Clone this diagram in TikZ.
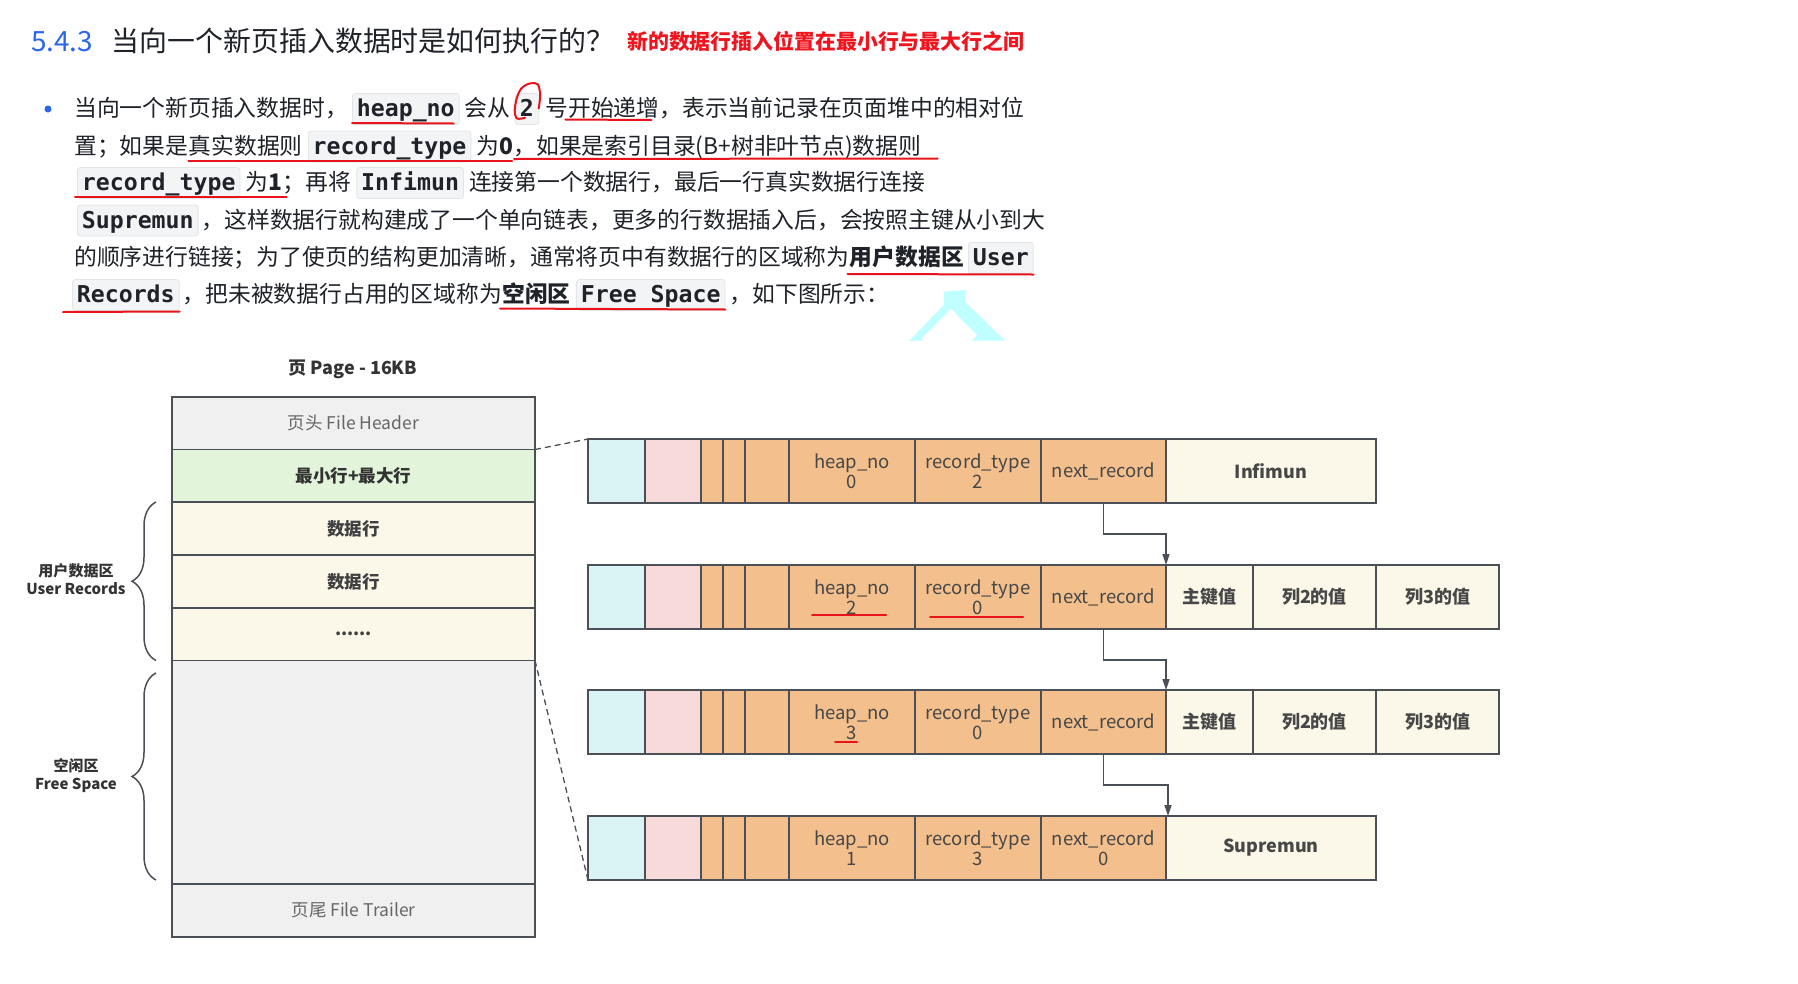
\documentclass[tikz,border=0pt]{standalone}
\usepackage{fontspec}
\setmainfont{Noto Sans CJK SC}
\setmonofont{DejaVu Sans Mono}
\usetikzlibrary{arrows.meta,positioning,decorations.pathreplacing}

\definecolor{ink}{HTML}{1F2329}
\definecolor{secblue}{HTML}{2B66EA}
\definecolor{markred}{HTML}{E8131B}
\definecolor{subred}{HTML}{F0141E}
\definecolor{codebg}{HTML}{F3F4F5}
\definecolor{codeline}{HTML}{E2E4E7}
\definecolor{frame}{HTML}{4B5056}
\definecolor{pgray}{HTML}{F0F0F0}
\definecolor{pgreen}{HTML}{E2F4D9}
\definecolor{pcream}{HTML}{FBF8EA}
\definecolor{ccyan}{HTML}{DAF3F5}
\definecolor{cpink}{HTML}{F8DADA}
\definecolor{corange}{HTML}{F3C08D}
\definecolor{cellink}{HTML}{474747}
\definecolor{hint}{HTML}{BFFFFF}

\begin{document}
\begin{tikzpicture}[x=1pt,y=-1pt,>={Triangle[length=11pt,width=7pt]},
  txt/.style={anchor=base west,inner sep=0pt,text=ink,font=\fontsize{22.8}{26}\selectfont},
  codebox/.style={anchor=base west,fill=codebg,draw=codeline,line width=0.8pt,rounded corners=3pt,
    inner xsep=4.5pt,inner ysep=4.5pt,text height=18.5pt,text depth=3.5pt,text=ink,
    font=\fontsize{23.2}{26}\selectfont\ttfamily\bfseries},
  redmark/.style={draw=markred,line width=2pt,line cap=round},
  pcell/.style={draw=frame,line width=1.6pt,minimum width=363pt,inner sep=0pt,outer sep=0pt,
    font=\fontsize{17.5}{20}\selectfont},
  rcell/.style={draw=frame,line width=1.6pt,minimum height=64pt,inner sep=0pt,outer sep=0pt,
    align=center,text=cellink,font=\fontsize{18.5}{20}\selectfont},
  datac/.style={fill=pcream,font=\fontsize{18}{20}\selectfont\bfseries},
  brc/.style={draw=frame,line width=1.5pt,decorate,decoration={brace,amplitude=24pt}},
  dashline/.style={draw=frame,line width=1.3pt,dash pattern=on 6pt off 4pt},
  link/.style={draw=frame,line width=1.4pt}]

\fill[white] (0,0) rectangle (1798,983);
\useasboundingbox (0,0) rectangle (1798,983);

% heading
\node[anchor=base west,inner sep=0pt,text=secblue,font=\fontsize{27.9}{30}\selectfont] (sec) at (31,51.5) {5.4.3};
\node[anchor=base west,inner sep=0pt,text=ink,font=\fontsize{27.9}{30}\selectfont] (ttl) at (111.7,51.5) {当向一个新页插入数据时是如何执行的？};
\node[anchor=base west,inner sep=0pt,text=subred,font=\fontsize{20.9}{24}\selectfont\bfseries] (sub) at (627,49) {新的数据行插入位置在最小行与最大行之间};

% paragraph
\fill[secblue] (48,109) circle (3.5);
\node[txt] (l1a) at (74,116.5) {当向一个新页插入数据时，};
\node[codebox,base right=4pt of l1a] (l1b) {heap\_no};
\node[txt,base right=5pt of l1b] (l1c) {会从};
\node[codebox,base right=4pt of l1c,inner xsep=5pt] (l1d) {2};
\node[txt,base right=6pt of l1d] (l1e) {号开始递增，表示当前记录在页面堆中的相对位};

\node[txt] (l2a) at (74,154) {置；如果是};
\node[txt,base right=0pt of l2a] (l2b) {真实数据则};
\node[codebox,base right=5pt of l2b] (l2c) {record\_type};
\node[txt,base right=5pt of l2c] (l2d) {为\textbf{0}，};
\node[txt,base right=0pt of l2d] (l2e) {如果是索引目录(B+树非叶节点)数据则};

\node[codebox] (l3a) at (77,190.5) {record\_type};
\node[txt,base right=5pt of l3a] (l3b) {为\textbf{1}};
\node[txt,base right=0pt of l3b] (l3c) {；再将};
\node[codebox,base right=5pt of l3c] (l3d) {Infimun};
\node[txt,base right=5pt of l3d] (l3e) {连接第一个数据行，最后一行真实数据行连接};

\node[codebox] (l4a) at (77,228) {Supremun};
\node[txt,base right=3pt of l4a] (l4b) {，这样数据行就构建成了一个单向链表，更多的行数据插入后，会按照主键从小到大};

\node[txt] (l5a) at (74,265.5) {的顺序进行链接；为了使页的结构更加清晰，通常将页中有数据行的区域称为};
\node[txt,base right=0pt of l5a] (l5b) {\textbf{用户数据区}};
\node[codebox,base right=4pt of l5b] (l5c) {User\hspace{8pt}};

\node[codebox] (l6a) at (72,302.5) {Records};
\node[txt,base right=3pt of l6a] (l6b) {，把未被数据行占用的区域称为};
\node[txt,base right=0pt of l6b] (l6c) {\textbf{空闲区}};
\node[codebox,base right=5pt of l6c] (l6d) {Free Space};
\node[txt,base right=4pt of l6d] (l6e) {，如下图所示：};

% red marks
\draw[redmark] ([yshift=-6.5pt]l1b.base west) -- ([xshift=-6pt,yshift=-7pt]l1b.base east);
\draw[redmark] ([xshift=20pt,yshift=-3pt]l1e.base west) -- ([xshift=106pt,yshift=-3.5pt]l1e.base west);
\draw[redmark,shift={(l1d.center)}] plot[smooth] coordinates
  {(-2,8.8) (-10,9.5) (-12.3,1.5) (-10,-11.5) (-5.7,-20.5) (0,-24.5) (5,-25.8) (11,-24.5) (13.3,-13.8) (11.7,-0.5)};
\draw[redmark] ([yshift=-7pt]l2b.base west) -- ([xshift=-24pt,yshift=-7pt]l2d.base east);
\draw[redmark] ([xshift=-22pt,yshift=-5pt]l2d.base east) -- ([xshift=16pt,yshift=-4.5pt]l2e.base east);
\draw[redmark] ([xshift=-2pt,yshift=-6.5pt]l3a.base west) -- ([xshift=4pt,yshift=-6.5pt]l3b.base east);
\draw[redmark] ([xshift=-2pt,yshift=-8.5pt]l5b.base west) -- ([yshift=-9pt]l5c.base east);
\draw[redmark] ([xshift=-9pt,yshift=-9.5pt]l6a.base west) -- ([yshift=-9pt]l6a.base east);
\draw[redmark] ([xshift=-2pt,yshift=-6pt]l6c.base west) -- ([yshift=-7pt]l6d.base east);
\fill[hint] (944,291.7) -- (966,290) -- (965,301.7) -- (1005,340.7) -- (971.7,340.7) -- (977.3,335.3)
  -- (951,308.7) -- (921.7,338.3) -- (923.3,340.7) -- (909.3,340.7) -- (944,304.7) -- cycle;

% page
\node[text=black!80,font=\fontsize{18}{20}\selectfont\bfseries] (ptitle) at (353,369) {页 Page - 16KB};
\node[pcell,fill=pgray,minimum height=52.5pt,anchor=north west,text=black!60] (hdr) at (172,397) {页头 File Header};
\node[pcell,fill=pgreen,minimum height=52.5pt,below=0pt of hdr,font=\fontsize{17.5}{20}\selectfont\bfseries,text=black!80] (mm) {最小行+最大行};
\node[pcell,fill=pcream,minimum height=53pt,below=0pt of mm,font=\fontsize{17.5}{20}\selectfont\bfseries,text=black!75] (d1) {数据行};
\node[pcell,fill=pcream,minimum height=53pt,below=0pt of d1,font=\fontsize{17.5}{20}\selectfont\bfseries,text=black!75] (d2) {数据行};
\node[pcell,fill=pcream,minimum height=52.5pt,below=0pt of d2,font=\fontsize{17.5}{20}\selectfont\bfseries,text=black!75] (dd) {......};
\node[pcell,fill=pgray,minimum height=223.5pt,below=0pt of dd] (fs) {};
\node[pcell,fill=pgray,minimum height=53pt,below=0pt of fs,text=black!60] (tr) {页尾 File Trailer};

\draw[brc] ([xshift=-16pt]dd.south west) -- ([xshift=-16pt]d1.north west);
\draw[brc] ([xshift=-16pt,yshift=4pt]tr.north west) -- ([xshift=-16pt,yshift=-12.5pt]fs.north west);
\node[align=center,text=black!80,font=\fontsize{15}{18}\selectfont\bfseries] (ur) at (76,579) {用户数据区\\User Records};
\node[align=center,text=black!80,font=\fontsize{15}{18}\selectfont\bfseries] (fr) at (76,776) {空闲区\\Free Space};

% records
\foreach \r/\y/\h/\t/\nx in {ra/439/0/2/{next\_record}, rb/565/2/0/{next\_record},
    rc/690/3/0/{next\_record}, rd/816/1/3/{next\_record\\0}}{
  \node[rcell,fill=ccyan,minimum width=57pt,anchor=north west] (\r-cy) at (588,\y) {};
  \node[rcell,fill=cpink,minimum width=56pt,right=0pt of \r-cy] (\r-pk) {};
  \node[rcell,fill=corange,minimum width=22pt,right=0pt of \r-pk] (\r-o1) {};
  \node[rcell,fill=corange,minimum width=22pt,right=0pt of \r-o1] (\r-o2) {};
  \node[rcell,fill=corange,minimum width=44pt,right=0pt of \r-o2] (\r-o3) {};
  \node[rcell,fill=corange,minimum width=126pt,right=0pt of \r-o3] (\r-hn) {heap\_no\\\h};
  \node[rcell,fill=corange,minimum width=126pt,right=0pt of \r-hn] (\r-rt) {record\_type\\\t};
  \node[rcell,fill=corange,minimum width=125pt,right=0pt of \r-rt] (\r-nr) {\nx};
}
\node[rcell,datac,minimum width=210pt,right=0pt of ra-nr] (ra-v) {Infimun};
\node[rcell,datac,minimum width=87pt,right=0pt of rb-nr] (rb-k) {主键值};
\node[rcell,datac,minimum width=123pt,right=0pt of rb-k] (rb-c2) {列2的值};
\node[rcell,datac,minimum width=123pt,right=0pt of rb-c2] (rb-c3) {列3的值};
\node[rcell,datac,minimum width=87pt,right=0pt of rc-nr] (rc-k) {主键值};
\node[rcell,datac,minimum width=123pt,right=0pt of rc-k] (rc-c2) {列2的值};
\node[rcell,datac,minimum width=123pt,right=0pt of rc-c2] (rc-c3) {列3的值};
\node[rcell,datac,minimum width=210pt,right=0pt of rd-nr] (rd-v) {Supremun};

\draw[link,->] (ra-nr.south) -- ++(0,31) -| (rb-nr.north east);
\draw[link,->] (rb-nr.south) -- ++(0,31) -| (rc-nr.north east);
\draw[link,->] (rc-nr.south) -- ++(0,31) -| ([xshift=2pt]rd-nr.north east);

\draw[dashline] (hdr.south east) -- (ra-cy.north west);
\draw[dashline] (dd.south east) -- (rd-cy.south west);

\draw[redmark] ([xshift=-40pt,yshift=-18pt]rb-hn.center) -- ([xshift=34pt,yshift=-18pt]rb-hn.center);
\draw[redmark] ([xshift=-48pt,yshift=-20pt]rb-rt.center) -- ([xshift=45pt,yshift=-20pt]rb-rt.center);
\draw[redmark] ([xshift=-17pt,yshift=-20pt]rc-hn.center) -- ([xshift=5pt,yshift=-20pt]rc-hn.center);
\end{tikzpicture}
\end{document}
